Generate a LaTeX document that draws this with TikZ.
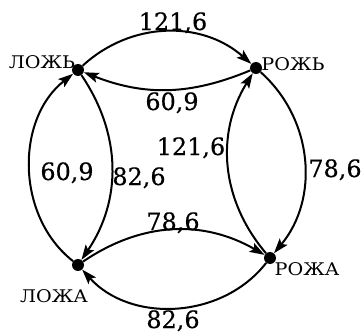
\documentclass[tikz,border=0pt]{standalone}
\usepackage{fontspec}
\setmainfont[FakeBold=0.4]{DejaVu Serif}
\newfontfamily\wordfont[FakeStretch=1.1]{DejaVu Serif}
\usetikzlibrary{arrows.meta}

\begin{document}
\begin{tikzpicture}[x=1bp, y=1bp, >={Stealth[length=15bp,width=10bp,inset=3bp]},
  vert/.style={circle, fill, inner sep=0pt, minimum size=12bp},
  word/.style={inner sep=0pt, anchor=base, font=\wordfont\fontsize{17.5}{20}\selectfont},
  weight/.style={inner sep=0pt, anchor=base, font=\fontsize{24}{27}\selectfont},
  arc/.style={->, line width=2bp}]
  \useasboundingbox (0,0) rectangle (361,334);
  % Words (vertices)
  \node[vert] (lozh) at (78,264) {};
  \node[vert] (rozh) at (256,266) {};
  \node[vert] (lozha) at (78,69) {};
  \node[vert] (rozha) at (270,76) {};
  \node[word] (tlozh) at (42,266) {ЛОЖЬ};
  \node[word] (trozh) at (293,264) {РОЖЬ};
  \node[word] (tlozha) at (54,32) {ЛОЖА};
  \node[word] (trozha) at (307,59) {РОЖА};
  % Top pair
  \draw[arc] (lozh) to[bend left=42] (rozh);
  \draw[arc] (rozh) to[bend left=22] (lozh);
  \node[weight] (w1) at (173,304) {121,6};
  \node[weight] (w2) at (172,224) {60,9};
  % Left pair
  \draw[arc] (lozha) to[bend left=52] (lozh);
  \draw[arc] (lozh) to[bend left=34] (lozha);
  \node[weight] (w3) at (67,154) {60,9};
  \node[weight] (w4) at (139,149) {82,6};
  % Right pair
  \draw[arc] (rozha) to[bend left=36] (rozh);
  \draw[arc] (rozh) to[bend left=44] (rozha);
  \node[weight] (w5) at (191,179) {121,6};
  \node[weight] (w6) at (335,157) {78,6};
  % Bottom pair
  \draw[arc] (lozha) to[bend left=32] (rozha);
  \draw[arc] (rozha) to[bend left=50] (lozha);
  \node[weight] (w7) at (173,104) {78,6};
  \node[weight] (w8) at (173,6) {82,6};
\end{tikzpicture}
\end{document}
